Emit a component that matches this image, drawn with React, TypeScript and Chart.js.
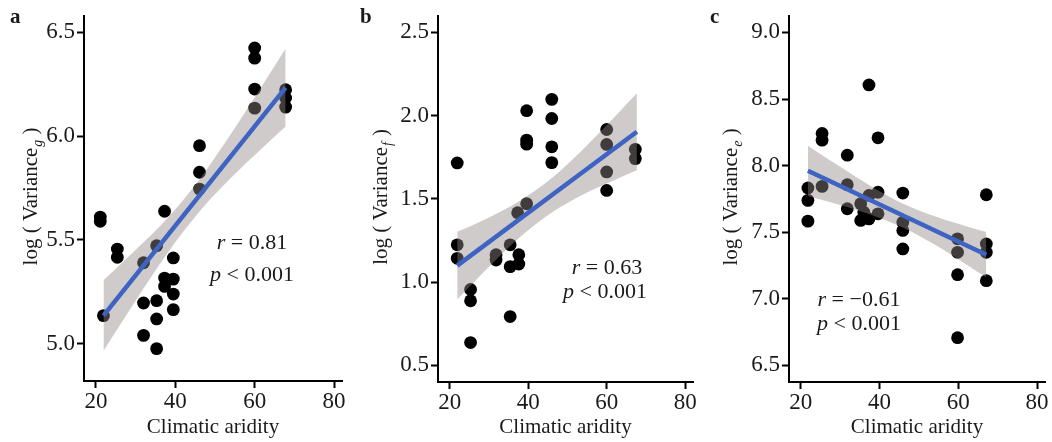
import React, { useEffect, useRef } from 'react';
import { Chart, registerables } from 'chart.js';

Chart.register(...registerables);

const FONT = '"Liberation Serif", "Times New Roman", serif';

// shared x ticks
const xTicks = [20, 40, 60, 80];

// ---- panel a : Variance g ----
const aridityA = [21.1, 21.1, 21.9, 25.4, 25.4, 32, 32, 32, 35.3, 35.3, 35.3, 35.3, 37.3, 37.3, 37.3, 39.5, 39.5, 39.5, 39.5, 46.1, 46.1, 46.1, 60, 60, 60, 60, 67.8, 67.8, 67.8];
const varianceG = [5.61, 5.59, 5.135, 5.456, 5.416, 5.39, 5.196, 5.04, 5.472, 5.207, 5.119, 4.976, 5.638, 5.316, 5.276, 5.413, 5.311, 5.239, 5.164, 5.954, 5.826, 5.745, 6.425, 6.376, 6.227, 6.135, 6.224, 6.184, 6.14];
const fitXA = [21.9, 67.8];
const fitYA = [5.135, 6.234];
const bandXA = [21.9, 30, 38, 46, 54, 62, 67.8];
const bandUpA = [5.305, 5.451, 5.604, 5.789, 6.01, 6.246, 6.422];
const bandLoA = [4.965, 5.207, 5.436, 5.635, 5.798, 5.944, 6.046];
const yTicksA = [5.0, 5.5, 6.0, 6.5];

// ---- panel b : Variance f ----
const aridityB = [21.9, 21.9, 21.9, 25.3, 25.3, 25.3, 31.8, 31.8, 35.4, 35.4, 35.4, 37.3, 37.6, 37.6, 39.6, 39.6, 39.6, 39.6, 46, 46, 46, 46, 60, 60, 60, 60, 67.3, 67.3];
const varianceF = [1.716, 1.224, 1.143, 0.956, 0.888, 0.637, 1.165, 1.133, 1.224, 1.093, 0.793, 1.417, 1.165, 1.109, 2.03, 1.853, 1.829, 1.471, 2.098, 1.983, 1.813, 1.718, 1.917, 1.827, 1.662, 1.551, 1.798, 1.742];
const fitXB = [21.9, 67.7];
const fitYB = [1.099, 1.903];
const bandXB = [21.9, 30, 38, 46, 54, 62, 67.7];
const bandUpB = [1.302, 1.389, 1.491, 1.625, 1.799, 1.992, 2.134];
const bandLoB = [0.896, 1.093, 1.273, 1.419, 1.527, 1.614, 1.672];
const yTicksB = [0.5, 1.0, 1.5, 2.0, 2.5];

// ---- panel c : Variance e ----
const aridityC = [21.8, 21.8, 21.8, 25.4, 25.4, 25.4, 31.8, 31.8, 31.8, 35.2, 35.2, 36.0, 37.3, 37.3, 37.3, 39.6, 39.6, 39.6, 45.9, 45.9, 45.9, 45.9, 59.8, 59.8, 59.8, 59.8, 67.1, 67.1, 67.1, 67.1];
const varianceE = [7.832, 7.739, 7.583, 8.241, 8.191, 7.844, 8.078, 7.857, 7.676, 7.714, 7.588, 7.65, 8.606, 7.776, 7.6, 8.209, 7.8, 7.638, 7.794, 7.575, 7.513, 7.374, 7.45, 7.349, 7.181, 6.708, 7.781, 7.412, 7.349, 7.136];
const fitXC = [21.8, 67.1];
const fitYC = [7.962, 7.33];
const bandXC = [21.8, 30, 38, 46, 54, 62, 67.1];
const bandUpC = [8.15, 7.991, 7.842, 7.714, 7.619, 7.544, 7.501];
const bandLoC = [7.772, 7.705, 7.63, 7.534, 7.407, 7.258, 7.159];
const yTicksC = [6.5, 7.0, 7.5, 8.0, 8.5, 9.0];

type PanelProps = {
  width: number;
  left: number;
  right: number;
  bottom: number;
  letter: string;
  sub: string;
  xs: number[];
  ys: number[];
  fitX: number[];
  fitY: number[];
  bandX: number[];
  bandUp: number[];
  bandLo: number[];
  yMin: number;
  yMax: number;
  yTicks: number[];
  rText: string;
  rPos: [number, number];
  pPos: [number, number];
};

const zip = (a: number[], b: number[]) => a.map((v, i) => ({ x: v, y: b[i] }));

function Panel(props: PanelProps) {
  const ref = useRef<HTMLCanvasElement | null>(null);
  useEffect(() => {
    const canvas = ref.current;
    if (!canvas) return;
    const textColor = '#1a1a1a';

    const drawMixed = (ctx: CanvasRenderingContext2D, italic: string, rest: string, cx: number, by: number) => {
      ctx.font = `italic 22px ${FONT}`;
      const w1 = ctx.measureText(italic).width;
      ctx.font = `22px ${FONT}`;
      const w2 = ctx.measureText(rest).width;
      const x0 = cx - (w1 + w2) / 2;
      ctx.textAlign = 'left';
      ctx.textBaseline = 'alphabetic';
      ctx.font = `italic 22px ${FONT}`;
      ctx.fillText(italic, x0, by);
      ctx.font = `22px ${FONT}`;
      ctx.fillText(rest, x0 + w1, by);
    };

    const overlay = {
      id: 'overlay' + props.letter,
      afterDraw(chart: any) {
        const ctx: CanvasRenderingContext2D = chart.ctx;
        const area = chart.chartArea;
        ctx.save();
        ctx.fillStyle = textColor;
        // panel letter
        ctx.font = `bold 21px ${FONT}`;
        ctx.textAlign = 'left';
        ctx.textBaseline = 'alphabetic';
        ctx.fillText(props.letter, 10, 23);
        // stats
        drawMixed(ctx, 'r', ' = ' + props.rText, props.rPos[0], props.rPos[1]);
        drawMixed(ctx, 'p', ' < 0.001', props.pPos[0], props.pPos[1]);
        // y title with subscript
        const cy = (area.top + area.bottom) / 2 - 2;
        ctx.translate(37, cy);
        ctx.rotate(-Math.PI / 2);
        const main = 'log ( Variance';
        const tail = ' )';
        ctx.font = `21px ${FONT}`;
        const w1 = ctx.measureText(main).width;
        const w3 = ctx.measureText(tail).width;
        ctx.font = `14px ${FONT}`;
        const w2 = ctx.measureText(props.sub).width;
        const x0 = -(w1 + w2 + w3 + 1) / 2;
        ctx.font = `21px ${FONT}`;
        ctx.fillText(main, x0, 0);
        ctx.font = `italic 14px ${FONT}`;
        ctx.fillText(props.sub, x0 + w1 + 1, 5);
        ctx.font = `21px ${FONT}`;
        ctx.fillText(tail, x0 + w1 + w2 + 1, 0);
        ctx.restore();
      },
    };

    const tickFont = { family: FONT, size: 23 };

    const chart = new Chart(canvas, {
      type: 'scatter',
      data: {
        datasets: [
          {
            type: 'line',
            data: zip(props.fitX, props.fitY),
            borderColor: '#3F63C2',
            borderWidth: 4.5,
            pointRadius: 0,
            fill: false,
            order: 0,
          } as any,
          {
            type: 'line',
            data: zip(props.bandX, props.bandUp),
            borderWidth: 0,
            borderColor: 'rgba(0,0,0,0)',
            backgroundColor: 'rgba(145,136,136,0.44)',
            pointRadius: 0,
            fill: '+1',
            cubicInterpolationMode: 'monotone',
            order: 1,
          } as any,
          {
            type: 'line',
            data: zip(props.bandX, props.bandLo),
            borderWidth: 0,
            borderColor: 'rgba(0,0,0,0)',
            pointRadius: 0,
            fill: false,
            cubicInterpolationMode: 'monotone',
            order: 2,
          } as any,
          {
            type: 'scatter',
            data: zip(props.xs, props.ys),
            backgroundColor: '#000000',
            borderWidth: 0,
            pointRadius: 6.4,
            order: 3,
          } as any,
        ],
      },
      options: {
        animation: false,
        responsive: false,
        events: [],
        layout: {
          autoPadding: false,
          padding: { left: 0, right: props.width - props.right, top: 15, bottom: 0 },
        },
        plugins: {
          legend: { display: false },
          tooltip: { enabled: false },
        },
        scales: {
          x: {
            type: 'linear',
            min: 17,
            max: 82,
            afterBuildTicks: (s: any) => {
              s.ticks = xTicks.map((v) => ({ value: v }));
            },
            afterFit: (s: any) => {
              s.height = 442 - props.bottom;
            },
            grid: { display: true, drawOnChartArea: false, drawTicks: true, tickLength: 7, tickWidth: 2, tickColor: '#000' },
            border: { display: true, color: '#000', width: 2 },
            ticks: { color: textColor, font: tickFont, padding: 0, maxRotation: 0, autoSkip: false },
            title: {
              display: true,
              text: 'Climatic aridity',
              color: textColor,
              font: { family: FONT, size: 21 },
              padding: { top: 0, bottom: 2 },
            },
          },
          y: {
            type: 'linear',
            min: props.yMin,
            max: props.yMax,
            afterBuildTicks: (s: any) => {
              s.ticks = props.yTicks.map((v) => ({ value: v }));
            },
            afterFit: (s: any) => {
              s.width = props.left;
            },
            grid: { display: true, drawOnChartArea: false, drawTicks: true, tickLength: 7, tickWidth: 2, tickColor: '#000' },
            border: { display: true, color: '#000', width: 2 },
            ticks: {
              color: textColor,
              font: tickFont,
              padding: 2,
              autoSkip: false,
              callback: (v: any) => Number(v).toFixed(1),
            },
          },
        },
      } as any,
      plugins: [overlay],
    });
    return () => chart.destroy();
  }, []);
  return <canvas ref={ref} width={props.width} height={442} style={{ width: props.width, height: 442, display: 'block' }} />;
}

export default function App() {
  return (
    <div style={{ position: 'absolute', left: 0, top: 0, width: 1052, height: 442, display: 'flex', background: '#fff' }}>
      <Panel
        width={350}
        left={84}
        right={342}
        bottom={381}
        letter="a"
        sub="g"
        xs={aridityA}
        ys={varianceG}
        fitX={fitXA}
        fitY={fitYA}
        bandX={bandXA}
        bandUp={bandUpA}
        bandLo={bandLoA}
        yMin={4.82}
        yMax={6.58}
        yTicks={yTicksA}
        rText="0.81"
        rPos={[252, 249]}
        pPos={[252, 281]}
      />
      <Panel
        width={350}
        left={88}
        right={343}
        bottom={382}
        letter="b"
        sub="f"
        xs={aridityB}
        ys={varianceF}
        fitX={fitXB}
        fitY={fitYB}
        bandX={bandXB}
        bandUp={bandUpB}
        bandLo={bandLoB}
        yMin={0.4}
        yMax={2.6}
        yTicks={yTicksB}
        rText="0.63"
        rPos={[257, 274]}
        pPos={[255, 298]}
      />
      <Panel
        width={352}
        left={89}
        right={345}
        bottom={382}
        letter="c"
        sub="e"
        xs={aridityC}
        ys={varianceE}
        fitX={fitXC}
        fitY={fitYC}
        bandX={bandXC}
        bandUp={bandUpC}
        bandLo={bandLoC}
        yMin={6.375}
        yMax={9.125}
        yTicks={yTicksC}
        rText={'\u22120.61'}
        rPos={[159, 306]}
        pPos={[159, 330]}
      />
    </div>
  );
}
